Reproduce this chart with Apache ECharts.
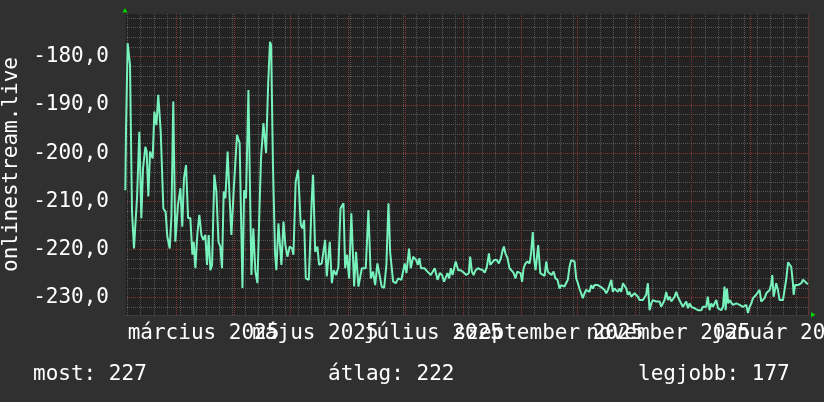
<!DOCTYPE html>
<html><head><meta charset="utf-8">
<script src="https://cdn.jsdelivr.net/npm/echarts@6/dist/echarts.min.js"></script>
<style>html,body{margin:0;padding:0;background:#303030;overflow:hidden}#c{width:824px;height:402px}</style>
</head><body><div id="c"></div>
<script>
// ---- data (day offsets from 2025-02-01, values) ----
const days = [
0.82,1.17,2.06,2.6,3.31,3.84,4.38,5.44,6.16,7.05,8.29,9.36,10.25,11.5,12.2,13.1,14.0,15.4,16.3,17.4,18.4,19.7,21.1,22.3,23.2,24.5,25.4,26.4,27.5,28.9,
30.2,31.2,32.1,33.2,34.3,35.5,36.6,37.3,38.2,39.2,40.3,41.4,42.4,43.5,44.4,45.3,46.2,47.1,48.3,49.4,50.5,51.5,52.4,53.3,54.2,55.4,56.3,57.4,58.6,60.4,
61.8,63.3,64.2,65.2,66.5,67.2,68.1,69.1,70.2,71.3,72.3,73.2,74.5,75.9,77.0,78.0,78.6,79.6,80.7,81.4,82.5,84.1,85.2,86.2,87.3,88.5,89.8,90.5,
91.7,93.0,93.5,94.4,95.3,96.2,97.1,98.7,99.6,100.3,101.0,101.5,102.1,103.3,104.2,105.6,106.5,107.4,108.3,109.9,
111.0,112.0,113.3,114.5,115.6,117.2,118.1,119.1,120.2,121.4,122.9,123.9,125.2,127.0,129.1,130.5,131.8,133.0,134.1,135.3,
137.6,138.9,140.1,141.2,142.1,143.7,145.1,146.4,148.1,149.9,150.8,152.2,153.1,154.4,156.0,156.9,157.7,158.6,160.4,162.0,
163.8,165.9,167.4,168.6,169.8,170.9,172.7,173.6,174.5,175.4,177.1,178.4,179.8,181.6,
182.7,184.1,184.8,185.7,186.6,187.6,188.9,190.1,191.5,192.6,193.7,194.8,195.5,196.5,197.6,199.0,200.1,201.2,201.9,202.8,
203.6,204.7,205.8,206.8,207.9,209.0,209.9,210.8,211.7,212.5,213.3,214.3,215.4,216.5,217.3,218.2,219.0,219.7,220.4,221.1,
222.2,223.2,224.5,225.4,226.2,227.1,228.2,229.3,230.3,231.4,
232.5,233.4,234.3,235.1,236.0,236.9,237.8,238.7,239.6,240.5,241.4,242.3,243.1,244.0,244.9,245.8,246.7,247.6,248.5,249.4,
250.3,251.1,252.0,252.9,253.8,254.7,255.6,256.5,257.4,258.3,259.2,260.1,260.9,261.8,262.7,263.6,264.5,265.4,266.3,267.2,
268.1,268.9,269.8,270.7,271.6,272.5,
273.4,274.3,275.2,276.1,277.0,277.8,278.7,279.6,280.5,281.4,282.3,283.2,284.1,285.0,285.9,286.7,287.6,288.5,289.4,290.3,
291.2,292.1,293.0,293.9,294.7,295.6,296.5,297.4,298.3,299.2,300.1,301.0,301.9,302.8,303.6,304.5,305.4,306.3,307.2,308.1,
309.0,309.9,310.8,311.6,312.5,313.4,314.3,315.2,316.1,317.0,317.9,318.8,319.7,320.5,321.1,321.8,322.5,323.2,324.1,325.0,
325.9,326.8,327.7,328.6,329.4,330.3,331.2,332.1,333.0,333.9,334.8,335.7,336.6,337.4,338.3,339.2,340.1,341.0,341.9,342.8,
343.7,344.6,345.5,346.0,346.7,347.6,348.1,349.0,349.9,350.8,351.7,352.6,353.5,354.4,355.2,356.1,357.0,357.4,358.1,358.8,
359.7,360.6,361.5,362.4,363.2,364.1,365.0
];
const values = [
-207.7,-195.2,-177.2,-177.2,-181.7,-181.7,-212.2,-219.8,-214.9,-209.4,-195.6,-213.5,-203.2,-198.7,-199.7,-209.0,-199.7,-201.1,-191.4,-194.2,-187.9,-195.6,-211.5,-212.2,-217.3,-219.8,-213.2,-189.3,-218.4,-210.8,
-207.3,-215.3,-205.2,-202.5,-213.5,-213.5,-221.1,-218.4,-223.9,-217.0,-212.8,-217.0,-218.0,-217.0,-223.2,-217.0,-224.3,-223.2,-204.5,-208.0,-218.4,-219.4,-223.9,-208.0,-209.4,-199.7,-208.0,-217.0,-208.0,-196.2,
-197.9,-228.0,-207.7,-209.4,-186.9,-204.5,-225.3,-215.6,-224.6,-227.0,-212.8,-201.1,-193.8,-200.0,-185.9,-176.9,-177.6,-202.8,-220.8,-224.3,-214.6,-223.2,-214.2,-219.1,-221.5,-219.4,-219.8,-221.1,
-206.0,-203.5,-203.5,-214.9,-215.6,-213.9,-226.0,-226.3,-217.0,-209.4,-204.5,-204.8,-220.5,-219.4,-223.2,-222.9,-223.2,-218.0,-225.6,-218.4,
-227.0,-224.3,-225.3,-223.6,-211.5,-210.4,-223.9,-221.1,-226.0,-212.5,-227.7,-220.5,-227.7,-223.9,-223.9,-211.8,-226.0,-224.6,-227.4,-222.9,
-227.7,-228.0,-223.2,-210.4,-220.5,-226.7,-227.0,-226.0,-226.3,-222.9,-224.9,-219.8,-223.9,-221.5,-222.2,-223.2,-221.8,-223.9,-223.9,-224.6,
-225.3,-223.9,-226.3,-224.9,-225.3,-226.7,-224.9,-226.0,-223.9,-225.3,-222.5,-224.3,-224.3,-224.9,
-225.3,-224.9,-221.5,-224.6,-225.3,-224.4,-223.9,-224.1,-224.3,-224.8,-223.6,-220.8,-223.2,-222.9,-222.2,-222.2,-222.9,-221.8,-220.5,-219.4,
-220.8,-221.8,-223.9,-224.3,-224.8,-226.0,-224.6,-224.3,-224.9,-226.7,-223.9,-222.9,-222.5,-222.9,-220.8,-216.4,-222.2,-224.3,-224.6,-219.1,
-224.9,-224.6,-225.5,-222.5,-224.6,-224.3,-225.3,-224.6,-226.0,-226.3,
-228.1,-227.4,-227.0,-227.7,-227.4,-226.3,-223.6,-222.2,-221.8,-222.5,-226.0,-227.0,-228.1,-228.4,-230.1,-229.1,-228.4,-228.1,-228.8,-227.4,
-228.1,-227.4,-227.7,-227.4,-227.7,-227.8,-227.4,-228.4,-229.1,-228.4,-228.1,-226.3,-228.8,-228.1,-227.7,-228.8,-228.1,-228.8,-227.0,-226.7,
-228.1,-229.4,-228.8,-229.8,-230.1,-229.1,
-228.8,-229.8,-230.5,-230.1,-230.5,-230.1,-229.4,-227.0,-232.6,-231.2,-230.5,-230.5,-230.8,-231.2,-230.8,-231.9,-231.2,-230.5,-228.8,-230.5,
-229.8,-230.8,-230.8,-229.8,-228.8,-229.8,-230.1,-231.2,-231.9,-231.5,-230.8,-232.2,-231.2,-231.9,-231.5,-232.2,-232.2,-232.6,-232.2,-232.6,
-231.9,-231.5,-231.9,-229.8,-232.6,-231.2,-231.9,-231.2,-230.5,-232.2,-231.9,-232.6,-231.9,-227.7,-232.6,-228.1,-231.2,-230.5,-230.8,-231.5,
-231.9,-231.2,-231.2,-231.5,-231.9,-231.9,-232.2,-231.5,-233.2,-231.9,-231.2,-230.1,-230.5,-229.4,-229.8,-228.4,-230.8,-230.5,-230.1,-229.1,
-229.4,-228.4,-227.0,-225.3,-229.8,-228.1,-227.0,-228.4,-230.5,-230.1,-230.5,-230.5,-226.0,-222.7,-222.9,-223.6,-227.0,-229.4,-227.4,-227.8,
-227.4,-227.4,-227.0,-226.3,-226.7,-226.9,-227.2
];
const yMajorTicks = [-230, -220, -210, -200, -190, -180];
const monthLabels = ['március 2025', 'május 2025', 'július 2025', 'szeptember 2025', 'november 2025', 'január 2026'];
const monthLabelYM = [[2025, 2], [2025, 4], [2025, 6], [2025, 8], [2025, 10], [2026, 0]];
const summaryNames = ['most', 'átlag', 'legjobb'];
const summaryValues = [227, 222, 177];
const yTitle = 'onlinestream.live';

// ---- layout / style ----
const START = Date.UTC(2025, 1, 1), DAY = 86400000;
const dayOf = (y, m, d) => (Date.UTC(y, m, d || 1) - START) / DAY;
const X_MIN = 0.64, X_MAX = 365.05, Y_MIN = -233.6, Y_MAX = -171.15;
const G = { left: 125, right: 16, top: 14, bottom: 87 };
const plotW = 824 - G.left - G.right;
const pxPerDay = plotW / (X_MAX - X_MIN);
const LABEL_LEFT_PX = [48.6, 38.4, 41.1, 67.5, 49.1, 38.3];
const FONT = 'DejaVu Sans Mono';
const FS = 21;

const monthStarts = [];
for (let m = 1; m <= 13; m++) { const d = dayOf(2025, m); if (d > X_MIN && d <= X_MAX) monthStarts.push(d); }
const mondays = [];
for (let d = dayOf(2025, 1, 3); d < X_MAX; d += 7) if (monthStarts.indexOf(d) < 0) mondays.push(d);
const yMinor = [];
for (let v = -232; v <= -172; v += 2) if (v % 10 !== 0) yMinor.push(v);
const labelDays = monthLabelYM.map((ym, i) => dayOf(ym[0], ym[1]) - LABEL_LEFT_PX[i] / pxPerDay);
// two label sets so that overlapping labels are both drawn (as in the reference)
const labelsA = labelDays.filter((d, i) => i % 2 === 0);
const labelsB = labelDays.filter((d, i) => i % 2 === 1);

const minorLine = { show: true, lineStyle: { color: '#575757', width: 1, type: [1, 1] } };
const majorLine = { show: true, lineStyle: { color: '#853535', width: 1, type: [1, 1] } };
const labelFormatter = function (v) {
  let best = 0;
  labelDays.forEach((d, i) => { if (Math.abs(d - v) < Math.abs(labelDays[best] - v)) best = i; });
  return monthLabels[best];
};
const xLabelStyle = (vals) => ({ show: true, customValues: vals, align: 'left', margin: 8, hideOverlap: false,
  showMinLabel: true, showMaxLabel: true, color: '#ffffff', fontFamily: FONT, fontSize: FS, formatter: labelFormatter });

const chart = echarts.init(document.getElementById('c'), null, { renderer: 'canvas' });
chart.setOption({
  backgroundColor: '#303030',
  animation: false,
  grid: { left: G.left, right: G.right, top: G.top, bottom: G.bottom, containLabel: false, outerBoundsMode: 'none',
    show: true, backgroundColor: '#222222', borderWidth: 0 },
  xAxis: [
    { type: 'value', min: X_MIN, max: X_MAX, position: 'top', axisLine: { show: false },
      axisTick: { show: false, customValues: mondays }, axisLabel: { show: false }, splitLine: minorLine },
    { type: 'value', min: X_MIN, max: X_MAX, position: 'bottom',
      axisLine: { show: true, onZero: false, lineStyle: { color: '#3d3d3d', width: 1 } },
      axisTick: { show: false, customValues: monthStarts },
      axisLabel: xLabelStyle(labelsA),
      splitLine: majorLine },
    { type: 'value', min: X_MIN, max: X_MAX, position: 'bottom', offset: 0,
      axisLine: { show: false, onZero: false }, axisTick: { show: false },
      axisLabel: xLabelStyle(labelsB), splitLine: { show: false } }
  ],
  yAxis: [
    { type: 'value', min: Y_MIN, max: Y_MAX, position: 'right', axisLine: { show: false },
      axisTick: { show: false, customValues: yMinor }, axisLabel: { show: false }, splitLine: minorLine },
    { type: 'value', min: Y_MIN, max: Y_MAX, position: 'left',
      axisLine: { show: true, onZero: false, lineStyle: { color: '#2c2c2c', width: 1 } },
      axisTick: { show: false, customValues: yMajorTicks },
      axisLabel: { customValues: yMajorTicks, margin: 16, color: '#ffffff', fontFamily: FONT, fontSize: FS,
        showMinLabel: true, showMaxLabel: true,
        formatter: v => v.toFixed(1).replace('.', ',') },
      splitLine: majorLine,
      name: yTitle, nameLocation: 'middle', nameRotate: 90, nameGap: 97,
      nameTextStyle: { color: '#ffffff', fontFamily: FONT, fontSize: FS } }
  ],
  series: [{
    type: 'line', xAxisIndex: 1, yAxisIndex: 1, symbol: 'none', z: 5,
    data: days.map((d, i) => [d, values[i]]),
    lineStyle: { color: '#78f2bc', width: 2 }
  }],
  graphic: [
    { type: 'polygon', shape: { points: [[122.5, 12.5], [127.5, 12.5], [125, 8]] }, style: { fill: '#00d000' } },
    { type: 'polygon', shape: { points: [[811, 312], [811, 317.5], [815.5, 314.75]] }, style: { fill: '#00d000' } },
    { type: 'text', x: 33, y: 375, style: { text: summaryNames[0] + ': ' + summaryValues[0], fill: '#ffffff', font: FS + 'px "' + FONT + '"', verticalAlign: 'middle', align: 'left' } },
    { type: 'text', x: 328, y: 375, style: { text: summaryNames[1] + ': ' + summaryValues[1], fill: '#ffffff', font: FS + 'px "' + FONT + '"', verticalAlign: 'middle', align: 'left' } },
    { type: 'text', x: 638, y: 375, style: { text: summaryNames[2] + ': ' + summaryValues[2], fill: '#ffffff', font: FS + 'px "' + FONT + '"', verticalAlign: 'middle', align: 'left' } }
  ]
});
</script></body></html>
